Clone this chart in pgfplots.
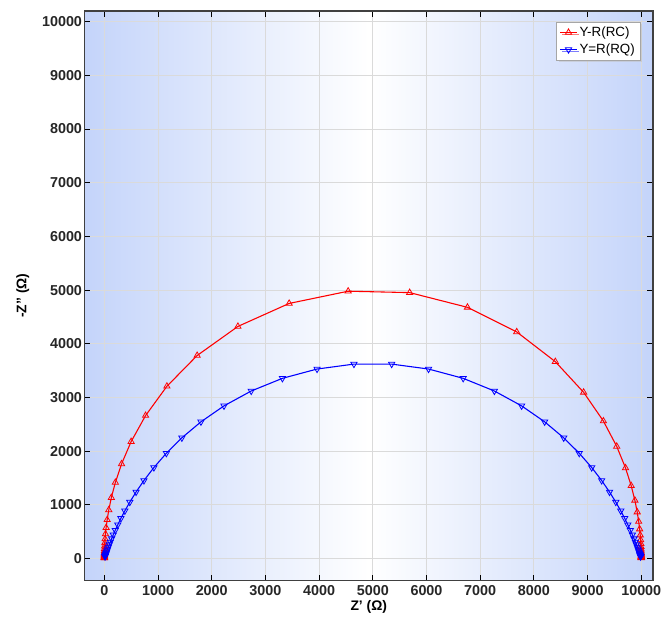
\documentclass[border=0pt]{standalone}
\usepackage{fontspec}
\setmainfont{Liberation Sans}
\usepackage{pgfplots}
\usepackage{pgfplotstable}
\pgfplotsset{compat=1.18}
\usetikzlibrary{shadows}
\definecolor{bgblue}{RGB}{196,212,250}
\definecolor{gridgray}{RGB}{218,218,218}

\pgfplotstableread{
x y
10000.0 11.0
10000.0 13.8
10000.0 17.4
9999.9 21.9
9999.9 27.5
9999.9 34.7
9999.8 43.6
9999.7 55.0
9999.5 69.2
9999.2 87.1
9998.8 109.6
9998.1 138.0
9997.0 173.7
9995.2 218.7
9992.4 275.2
9988.0 346.3
9981.0 435.7
9969.9 547.9
9952.4 688.5
9924.7 864.4
9881.2 1083.5
9813.0 1354.6
9706.9 1686.9
9543.2 2087.9
9294.9 2560.0
8926.8 3095.3
8399.5 3666.5
7680.5 4220.8
6762.9 4678.7
5686.5 4952.7
4540.8 4978.9
3441.8 4751.0
2487.6 4322.9
1728.2 3780.9
1164.7 3207.8
767.9 2662.5
498.6 2176.6
320.5 1761.4
204.7 1415.9
130.1 1133.2
82.5 904.5
52.2 720.6
33.0 573.5
20.9 456.1
13.2 362.6
8.3 288.2
5.2 229.0
3.3 181.9
2.1 144.5
1.3 114.8
0.8 91.2
0.5 72.4
0.3 57.5
0.2 45.7
0.1 36.3
0.1 28.8
0.1 22.9
0.0 18.2
0.0 14.5
0.0 11.5
0.0 9.1
}\rcdata

\pgfplotstableread{
x y
9988.7 34.5
9986.4 41.4
9983.6 49.7
9980.2 59.8
9976.1 71.8
9971.1 86.2
9965.2 103.6
9957.9 124.3
9949.0 149.2
9938.2 179.0
9925.1 214.7
9908.9 257.4
9889.1 308.3
9864.7 369.0
9834.5 441.1
9797.0 526.8
9750.2 628.1
9691.8 747.5
9618.4 887.3
9526.0 1050.2
9409.5 1238.2
9262.5 1452.8
9077.3 1694.3
8845.0 1960.8
8556.0 2247.7
8200.7 2546.1
7771.5 2842.9
7264.6 3119.9
6683.1 3356.0
6038.4 3529.2
5351.2 3621.0
4648.8 3621.0
3961.6 3529.2
3316.9 3356.0
2735.4 3119.9
2228.5 2842.9
1799.3 2546.1
1444.0 2247.7
1155.0 1960.8
922.7 1694.3
737.5 1452.8
590.5 1238.2
474.0 1050.2
381.6 887.3
308.2 747.5
249.8 628.1
203.0 526.8
165.5 441.1
135.3 369.0
110.9 308.3
91.1 257.4
74.9 214.7
61.8 179.0
51.0 149.2
42.1 124.3
34.8 103.6
28.9 86.2
23.9 71.8
19.8 59.8
16.4 49.7
13.6 41.4
11.3 34.5
}\rqdata

\begin{document}
\begin{tikzpicture}
\begin{axis}[
  scale only axis, width=572bp, height=573bp,
  xmin=-370, xmax=10220, ymin=-410, ymax=10200,
  xtick={0,1000,...,10000}, ytick={0,1000,...,10000},
  scaled ticks=false,
  tick align=inside, major tick length=6bp,
  tick style={black, line width=1pt},
  axis line style={black!75, line width=1.4pt},
  grid=major, major grid style={gridgray, line width=1pt},
  axis background/.style={shade, left color=bgblue, right color=bgblue, middle color=white},
  /pgf/number format/.cd, set thousands separator={}, assume math mode=true,
  /pgfplots/.cd,
  ticklabel style={font=\fontsize{14.5}{16}\selectfont\bfseries, text=black!85},
  xticklabel style={yshift=-1bp},
  yticklabel style={xshift=1bp},
  xlabel={Z' (Ω)}, ylabel={-Z'' (Ω)},
  label style={font=\fontsize{14}{16}\selectfont\bfseries},
  xlabel style={yshift=2bp},
  ylabel style={yshift=6bp},
  legend style={at={(axis description cs:0.977,0.981)}, anchor=north east,
    font=\fontsize{13.5}{16}\selectfont, draw=gray!70, fill=white,
    drop shadow={shadow xshift=2pt, shadow yshift=-2pt, fill=gray!50},
    inner sep=3pt, row sep=2pt},
  legend cell align=left,
]
\addplot[red, line width=1.1pt, mark=triangle, mark size=3.6bp, mark options={line width=0.8pt}] table[x=x, y=y] {\rcdata};
\addlegendentry{Y-R(RC)}
\addplot[blue, line width=1.1pt, mark=triangle, mark size=3.6bp, mark options={rotate=180, line width=0.8pt}] table[x=x, y=y] {\rqdata};
\addlegendentry{Y=R(RQ)}
\end{axis}
\pgfresetboundingbox
\path ([shift={(-85bp,-41bp)}]current axis.south west) rectangle ++(667bp,625bp);
\end{tikzpicture}
\end{document}
